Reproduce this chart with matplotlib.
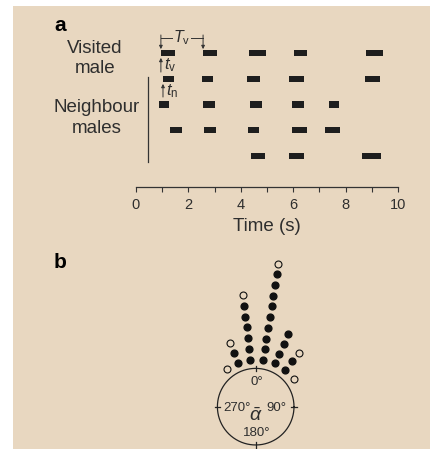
import numpy as np
import matplotlib
matplotlib.use("Agg")
import matplotlib.pyplot as plt
from matplotlib.patches import Rectangle

# Datos del panel a: inicio y duración (s) de cada canto por fila
# ---------------------------------------------
visited = [(0.95, 0.54), (2.56, 0.53), (4.31, 0.65), (6.03, 0.50), (8.78, 0.64)]
neigh_1 = [(1.03, 0.42), (2.52, 0.41), (4.24, 0.49), (5.84, 0.57), (8.74, 0.57)]
neigh_2 = [(0.88, 0.38), (2.56, 0.46), (4.35, 0.46), (5.95, 0.46), (7.37, 0.38)]
neigh_3 = [(1.30, 0.46), (2.60, 0.45), (4.27, 0.42), (5.95, 0.58), (7.21, 0.58)]
neigh_4 = [(4.39, 0.53), (5.84, 0.57), (8.63, 0.72)]
rows = [visited, neigh_1, neigh_2, neigh_3, neigh_4]
row_y = [5, 4, 3, 2, 1]
x_ticks = [0, 2, 4, 6, 8, 10]

# Datos del panel b: ángulo de fase (grados) y número de puntos por clase
# ---------------------------------------------
angles = [-37.5, -22, -6.5, 9, 24, 38.5, 53.5]
n_filled = [0, 2, 6, 9, 4, 2, 0]
n_open = [1, 1, 1, 1, 0, 1, 1]

bg = "#e8d7c0"
ink = "#1e1e1e"
txt = "#2e2e2e"
plt.rcParams["font.family"] = ["Liberation Sans", "DejaVu Sans"]
plt.rcParams["mathtext.fontset"] = "custom"
plt.rcParams["mathtext.rm"] = "Liberation Sans"
plt.rcParams["mathtext.it"] = "Liberation Sans:italic"

W, H = 431, 449
fig = plt.figure(figsize=(W / 100, H / 100), dpi=100)
fig.patches.append(Rectangle((13 / W, 0), (430 - 13) / W, (H - 6) / H,
                             transform=fig.transFigure, facecolor=bg,
                             edgecolor="none", zorder=-10))

# Panel a
# ---------------------------------------------
ax = fig.add_axes([136 / W, 1 - 187 / H, 262 / W, 157 / H])
ax.set_facecolor("none")
h = 0.25
for segs, y in zip(rows, row_y):
    ax.broken_barh(segs, (y - h / 2, h), facecolors=ink)
ax.set_xlim(0, 10)
ax.set_ylim(-0.204, 5.893)
for s in ["top", "right", "left"]:
    ax.spines[s].set_visible(False)
ax.spines["bottom"].set_color("#333333")
ax.spines["bottom"].set_linewidth(0.9)
ax.set_yticks([])
ax.set_xticks(x_ticks)
ax.set_xticks(range(11), minor=True)
ax.tick_params(axis="x", which="both", direction="out", length=3.6,
               width=0.8, color="#333333", labelsize=10.5, pad=4,
               labelcolor=txt)
ax.set_xlabel("Time (s)", fontsize=13.5, color=txt, labelpad=5)

ax.text(-1.565, 4.79, "Visited\nmale", ha="center", va="center",
        fontsize=13.5, color=txt, linespacing=1.25, clip_on=False)
ax.text(-1.49, 2.476, "Neighbour\nmales", ha="center", va="center",
        fontsize=13.5, color=txt, linespacing=1.25, clip_on=False)
ax.plot([0.46, 0.46], [0.767, 4.07], color="#333333", lw=0.9, clip_on=False)

# Anotaciones T_v, t_v, t_n
t0, t1 = visited[0][0], visited[1][0]
arrow = dict(arrowstyle="-|>", lw=0.7, color="#333333", mutation_scale=5,
             shrinkA=0, shrinkB=0)
for t in (t0, t1):
    ax.annotate("", xy=(t, 5.15), xytext=(t, 5.70), arrowprops=arrow,
                annotation_clip=False)
ax.plot([t0, t1], [5.58, 5.58], color="#333333", lw=0.7, clip_on=False)
ax.text((t0 + t1) / 2, 5.6, r"$T_{\mathrm{v}}$", ha="center", va="center",
        fontsize=11.5, color=txt,
        bbox=dict(facecolor=bg, edgecolor="none", pad=0.5), clip_on=False)
ax.annotate("", xy=(t0, 4.81), xytext=(t0, 4.26), arrowprops=arrow,
            annotation_clip=False)
ax.text(t0 + 0.12, 4.53, r"$t_{\mathrm{v}}$", ha="left", va="center",
        fontsize=12, color=txt)
t2 = neigh_1[0][0]
ax.annotate("", xy=(t2, 3.80), xytext=(t2, 3.29), arrowprops=arrow,
            annotation_clip=False)
ax.text(t2 + 0.12, 3.5, r"$t_{\mathrm{n}}$", ha="left", va="center",
        fontsize=12, color=txt)

fig.text(54 / W, 1 - 31 / H, "a", fontsize=15, fontweight="bold",
         color="black", va="baseline")
fig.text(54 / W, 1 - 268 / H, "b", fontsize=15, fontweight="bold",
         color="black", va="baseline")

# Panel b: círculo de fase con puntos apilados
# ---------------------------------------------
bx = fig.add_axes([156.1 / W, 0.2 / H, 199.2 / W, 195.3 / H])
bx.set_facecolor("none")
bx.set_xlim(-2.6, 2.6)
bx.set_ylim(-1.1, 4.0)
bx.set_aspect("equal")
bx.axis("off")

th = np.linspace(0, 2 * np.pi, 400)
bx.plot(np.cos(th), np.sin(th), color="#222222", lw=0.9)
for a in (0, 90, 180, 270):
    r = np.radians(a)
    bx.plot([0.93 * np.sin(r), 1.07 * np.sin(r)],
            [0.93 * np.cos(r), 1.07 * np.cos(r)], color="#222222", lw=0.9)

r0, dr = 1.235, 0.283
for a, nf, no in zip(angles, n_filled, n_open):
    rad = np.radians(a)
    k = np.arange(nf + no)
    rr = r0 + k * dr
    xs, ys = rr * np.sin(rad), rr * np.cos(rad)
    bx.plot(xs[:nf], ys[:nf], "o", ms=4.9, color="#111111", mec="#111111")
    bx.plot(xs[nf:], ys[nf:], "o", ms=5.0, mfc="none", mec="#111111", mew=0.8)

lab = dict(ha="center", va="center", fontsize=9.5, color=txt)
bx.text(0.02, 0.645, "0°", **lab)
bx.text(0.54, -0.04, "90°", **lab)
bx.text(-0.49, -0.04, "270°", **lab)
bx.text(0.02, -0.68, "180°", **lab)
bx.text(0.0, -0.24, r"$\bar{\alpha}$", ha="center", va="center",
        fontsize=14, color=txt)

fig.savefig("out.png", dpi=100)
